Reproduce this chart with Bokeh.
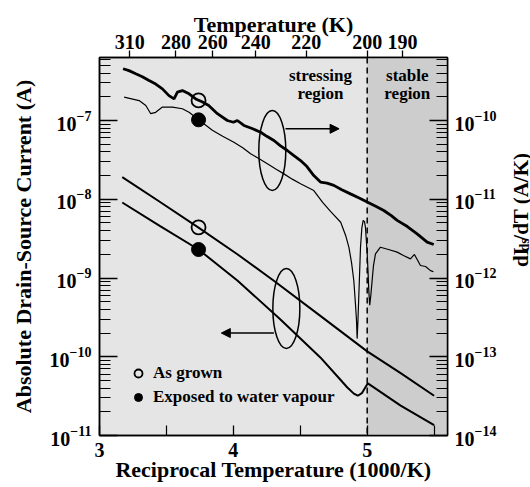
from math import pi
from bokeh.plotting import figure
from bokeh.layouts import row
from bokeh.models import (Range1d, LogScale, LogAxis, LinearAxis, FixedTicker,
                          CustomJSTickFormatter, BoxAnnotation, Span, Label, Arrow,
                          NormalHead, Legend, LegendItem)
from bokeh.embed import file_html
from bokeh.resources import INLINE

FONT = "Liberation Serif"

# ---------------- data ----------------
# Absolute drain-source current (left axis), x = 1000/T
recip_grown_I = [3.17, 3.45, 3.74, 4.03, 4.30, 4.65, 5.00, 5.25, 5.50]
current_grown = [1.91e-8, 9.3e-9, 4.37e-9, 2.0e-9, 9.3e-10, 3.3e-10, 1.17e-10, 6.2e-11, 3.2e-11]

recip_exposed_I = [3.17, 3.45, 3.74, 4.03, 4.35, 4.65, 4.80, 4.85, 4.90, 4.93, 4.96,
                   4.99, 5.005, 5.03, 5.25, 5.50]
current_exposed = [9.1e-9, 4.6e-9, 2.3e-9, 9.3e-10, 3.0e-10, 9.8e-11, 5.1e-11, 4.1e-11,
                   3.4e-11, 3.2e-11, 3.45e-11, 4.2e-11, 4.6e-11, 4.3e-11, 2.4e-11, 1.35e-11]

# dIds/dT (right axis)
recip_grown_d = [3.176, 3.22, 3.271, 3.32, 3.370, 3.42, 3.470, 3.519, 3.557, 3.582, 3.619,
                 3.669, 3.719, 3.77, 3.816, 3.881, 3.955, 4.000, 4.030, 4.079, 4.14, 4.204,
                 4.25, 4.303, 4.35, 4.403, 4.45, 4.502, 4.55, 4.601, 4.651, 4.70, 4.751,
                 4.81, 4.875, 4.94, 5.000, 5.06, 5.124, 5.18, 5.224, 5.30, 5.373, 5.448, 5.497]
didt_grown = [4.54e-10, 4.3e-10, 3.92e-10, 3.6e-10, 3.22e-10, 2.9e-10, 2.52e-10, 2.07e-10,
              1.88e-10, 2.29e-10, 2.40e-10, 2.18e-10, 1.88e-10, 1.72e-10, 1.55e-10, 1.22e-10,
              1.0e-10, 9.5e-11, 1.0e-10, 8.65e-11, 7.9e-11, 7.1e-11, 6.3e-11, 5.57e-11,
              4.8e-11, 4.16e-11, 3.6e-11, 3.10e-11, 2.6e-11, 2.0e-11, 1.65e-11, 1.6e-11,
              1.50e-11, 1.32e-11, 1.17e-11, 1.04e-11, 9.2e-12, 8.2e-12, 7.2e-12, 6.2e-12,
              5.4e-12, 4.5e-12, 3.64e-12, 2.85e-12, 2.66e-12]

recip_exposed_d = [3.184, 3.296, 3.346, 3.383, 3.420, 3.470, 3.545, 3.619, 3.669, 3.731,
                   3.843, 3.92, 4.004, 4.07, 4.129, 4.19, 4.254, 4.32, 4.378, 4.44, 4.502,
                   4.601, 4.667, 4.726, 4.802, 4.839, 4.863, 4.883, 4.900, 4.913, 4.920,
                   4.925, 4.931, 4.937, 4.944, 4.950, 4.960, 4.970, 4.980, 4.987, 5.000,
                   5.006, 5.012, 5.019, 5.027, 5.037, 5.047, 5.062, 5.099, 5.159, 5.224,
                   5.271, 5.323, 5.353, 5.398, 5.436, 5.473, 5.495]
didt_exposed = [1.98e-10, 1.79e-10, 1.55e-10, 1.22e-10, 1.27e-10, 1.48e-10, 1.48e-10,
                1.41e-10, 1.27e-10, 1.05e-10, 7.5e-11, 6.3e-11, 5.3e-11, 4.5e-11, 3.78e-11,
                3.3e-11, 2.82e-11, 2.4e-11, 2.10e-11, 1.8e-11, 1.57e-11, 1.29e-11, 9.1e-12,
                7.0e-12, 5.1e-12, 3.47e-12, 2.46e-12, 1.57e-12, 9.3e-13, 4.5e-13, 2.9e-13,
                1.7e-13, 2.9e-13, 5.7e-13, 1.24e-12, 2.46e-12, 4.3e-12, 5.4e-12, 5.2e-12,
                4.4e-12, 2.03e-12, 1.24e-12, 6.9e-13, 4.5e-13, 6.0e-13, 9.3e-13, 1.44e-12,
                2.03e-12, 2.46e-12, 2.30e-12, 2.13e-12, 1.93e-12, 1.75e-12, 1.99e-12,
                1.44e-12, 1.40e-12, 1.24e-12, 1.20e-12]

# marked points
marker_recip = [3.74]
marker_current_grown = [4.4e-9]
marker_current_exposed = [2.3e-9]
marker_didt_grown = [1.8e-10]
marker_didt_exposed = [1.02e-10]

# axes
temperature_ticks = [310, 280, 260, 240, 220, 200, 190]
bottom_ticks = [3, 4, 5]
left_exponents = [-11, -10, -9, -8, -7]
right_exponents = [-14, -13, -12, -11, -10]
boundary_recip = 5.0

# ---------------- main figure ----------------
X0, X1 = 3.0, 5.6
Y0, Y1 = 1e-11, 10 ** -6.2
p = figure(width=500, height=487, x_range=Range1d(X0, X1), y_range=Range1d(Y0, Y1),
           y_axis_type="log", output_backend="svg", toolbar_location=None,
           min_border_left=99, min_border_right=53, min_border_top=57, min_border_bottom=52)
p.extra_y_ranges = {"right": Range1d(1e-14, 10 ** -9.2)}
p.extra_y_scales = {"right": LogScale()}

p.background_fill_color = "#e5e5e5"
p.border_fill_color = "white"
p.xgrid.visible = False
p.ygrid.visible = False
p.outline_line_color = "black"
p.outline_line_width = 1.5

p.add_layout(BoxAnnotation(left=boundary_recip, fill_color="#cdcdcd", fill_alpha=1,
                           line_alpha=0, level="underlay"))
p.add_layout(Span(location=boundary_recip, dimension="height", line_color="black",
                  line_width=1.5, line_dash="6 4"))

# curves
p.line(recip_grown_I, current_grown, line_color="black", line_width=2)
p.line(recip_exposed_I, current_exposed, line_color="black", line_width=2)
p.line(recip_grown_d, didt_grown, line_color="black", line_width=2.8, y_range_name="right")
p.line(recip_exposed_d, didt_exposed, line_color="black", line_width=1.2, y_range_name="right")

r_open = p.scatter(marker_recip, marker_current_grown, marker="circle", size=14,
                   fill_color=None, line_color="black", line_width=1.8)
p.scatter(marker_recip, marker_didt_grown, marker="circle", size=14, fill_color=None,
          line_color="black", line_width=1.8, y_range_name="right")
r_fill = p.scatter(marker_recip, marker_current_exposed, marker="circle", size=14,
                   fill_color="black", line_color="black")
p.scatter(marker_recip, marker_didt_exposed, marker="circle", size=14, fill_color="black",
          line_color="black", y_range_name="right")

# ellipses + arrows (annotation layout)
ell_x = [4.291, 4.396]
ell_y = [10 ** -7.381, 10 ** -9.387]
p.ellipse(x=ell_x, y=ell_y, width=27, height=80, width_units="screen",
          height_units="screen", fill_color=None, line_color="black", line_width=1.5)
p.add_layout(Arrow(end=NormalHead(size=9, fill_color="black", line_color="black"),
                   x_start=4.39, y_start=7.85e-8, x_end=4.79, y_end=7.85e-8,
                   line_width=1.5, line_color="black"))
p.add_layout(Arrow(end=NormalHead(size=9, fill_color="black", line_color="black"),
                   x_start=4.303, y_start=2.0e-10, x_end=3.91, y_end=2.0e-10,
                   line_width=1.5, line_color="black"))

# legend
legend = Legend(items=[LegendItem(label="As grown", renderers=[r_open]),
                       LegendItem(label="Exposed to water vapour", renderers=[r_fill])],
                location=(29, 28), glyph_width=20, glyph_height=20, label_height=20,
                label_standoff=5, spacing=4, padding=0, margin=0,
                background_fill_alpha=0, border_line_alpha=0,
                label_text_font=FONT, label_text_font_style="bold",
                label_text_font_size="17px", label_text_color="black")
p.add_layout(legend)


# ---------------- axes ----------------
def style_text(ax, size="20px"):
    ax.major_label_text_font = FONT
    ax.major_label_text_font_style = "bold"
    ax.major_label_text_font_size = size
    ax.major_label_text_color = "black"
    ax.axis_label_text_font = FONT
    ax.axis_label_text_font_style = "bold"
    ax.axis_label_text_font_size = "22px"
    ax.axis_label_text_color = "black"
    ax.axis_line_width = 1.5
    ax.major_tick_line_width = 1.3
    ax.minor_tick_line_width = 1.2


xa = p.xaxis[0]
xa.ticker = FixedTicker(ticks=bottom_ticks, minor_ticks=[t + 0.5 for t in bottom_ticks])
style_text(xa)
xa.axis_label = "Reciprocal Temperature (1000/K)"
xa.major_tick_in = 10
xa.major_tick_out = 0
xa.minor_tick_in = 10
xa.minor_tick_out = 0
xa.major_label_standoff = 7
xa.axis_label_standoff = -3

left_minor = [m * 10.0 ** e for e in left_exponents for m in range(2, 10)]
ya = p.yaxis[0]
ya.ticker = FixedTicker(ticks=[10.0 ** e for e in left_exponents], minor_ticks=left_minor)
style_text(ya)
ya.axis_label = "Absolute Drain-Source Current (A)"
ya.major_label_standoff = 8
ya.axis_label_standoff = 11
ya.major_tick_in = 18
ya.major_tick_out = 0
ya.minor_tick_in = 11
ya.minor_tick_out = 0

right_minor = [m * 10.0 ** e for e in right_exponents for m in range(2, 10)]
ra = LogAxis(y_range_name="right",
             ticker=FixedTicker(ticks=[10.0 ** e for e in right_exponents],
                                minor_ticks=right_minor))
style_text(ra)
ra.major_label_standoff = 7
ra.major_tick_in = 18
ra.major_tick_out = 0
ra.minor_tick_in = 11
ra.minor_tick_out = 0
p.add_layout(ra, "right")

ta = LinearAxis(ticker=FixedTicker(ticks=[1000.0 / t for t in temperature_ticks]),
                formatter=CustomJSTickFormatter(code="return Math.round(1000 / tick).toString();"))
style_text(ta)
ta.axis_label = "Temperature (K)"
ta.major_tick_in = 0
ta.major_tick_out = 7
ta.minor_tick_in = 0
ta.minor_tick_out = 0
ta.major_label_standoff = 2
ta.axis_label_standoff = -5
p.add_layout(ta, "above")


def lab(fig, x, y, text, size, align="left", baseline="middle", angle=0.0):
    fig.add_layout(Label(x=x, y=y, text=text, text_font=FONT, text_font_style="bold",
                         text_font_size=size, text_align=align, text_baseline=baseline,
                         angle=angle, text_color="black"))


# region texts
lab(p, 4.651, 10 ** -6.429, "stressing", "17px", align="center")
lab(p, 4.651, 10 ** -6.657, "region", "17px", align="center")
lab(p, 5.30, 10 ** -6.429, "stable", "17px", align="center")
lab(p, 5.30, 10 ** -6.657, "region", "17px", align="center")

# ---------------- right-hand title strip (dI_ds/dT with subscript) ----------------
side = figure(width=30, height=487, x_range=Range1d(0, 30), y_range=Range1d(487, 0),
              output_backend="svg", toolbar_location=None, min_border=0,
              x_axis_location=None, y_axis_location=None)
side.xgrid.visible = False
side.ygrid.visible = False
side.outline_line_color = None
side.background_fill_color = "white"
side.border_fill_color = "white"
lab(side, 20, 270, "dI", "21px", baseline="alphabetic", angle=pi / 2)
lab(side, 24, 250, "ds", "14px", baseline="alphabetic", angle=pi / 2)
lab(side, 20, 236, "/dT (A/K)", "21px", baseline="alphabetic", angle=pi / 2)

layout = row(p, side, spacing=0)
open("out.html", "w").write(file_html(layout, INLINE))
